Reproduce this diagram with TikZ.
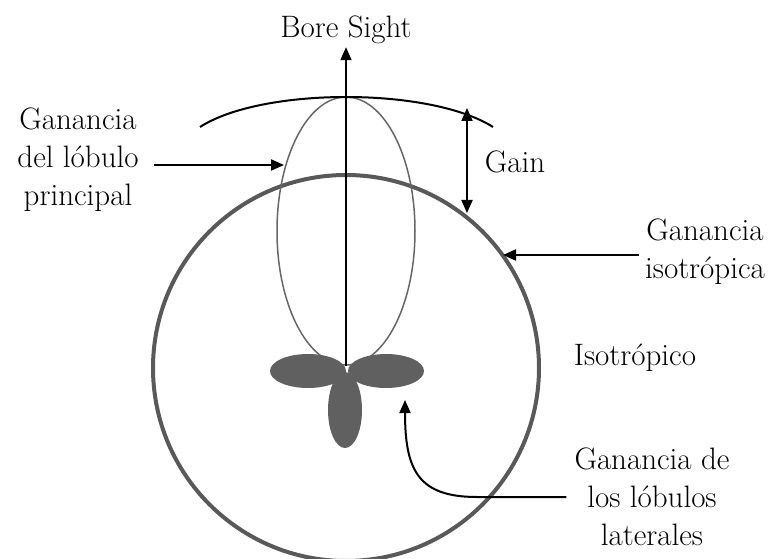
\documentclass[tikz,border=0pt]{standalone}
\usetikzlibrary{arrows.meta}
\tikzset{
  lbl/.style={font=\fontsize{31}{38}\selectfont,align=center,inner sep=0pt},
  lobe/.style={fill=gray!75!black,draw=none},
  tip/.tip={Triangle[length=13pt,width=11pt]},
  pointer/.style={-tip,line width=2pt}
}
\begin{document}
\begin{tikzpicture}[x=1pt,y=-1pt]
	\useasboundingbox (0,0) rectangle (780,559);
	\fill[white] (0,0) rectangle (780,559);
	\draw[draw=gray!70!black,line width=4pt] (346,368) circle [radius=193];
	\draw[gray!80!black,line width=1.5pt] (346,231) ellipse [x radius=69,y radius=134];
	\fill[lobe] (308,371) ellipse [x radius=38,y radius=17];
	\fill[lobe] (386,371) ellipse [x radius=38,y radius=17];
	\fill[lobe] (345,410) ellipse [x radius=17,y radius=38];
	\coordinate (o) at (346,366);
	\node[lbl] (bs) at (346,30) {Bore Sight};
	\draw[pointer] (o) -- ([yshift=-3pt]bs.south);
	\draw[line width=2pt] (200,127) .. controls (262,87) and (430,87) .. (493,127);
	\coordinate (gt) at (467,108);
	\coordinate (gb) at (467,213);
	\draw[tip-tip,line width=2pt] (gt) -- (gb);
	\node[lbl] (gain) at (515,162) {Gain};
	\node[lbl] (ml) at (78,160) {Ganancia\\del lóbulo\\principal};
	\coordinate (mt) at (284,165);
	\draw[pointer] ([xshift=15pt]ml.east |- mt) -- (mt);
	\node[lbl] (il) at (705,252) {Ganancia\\isotrópica};
	\coordinate (it) at (503,255);
	\draw[pointer] ([xshift=-6pt]il.west |- it) -- (it);
	\node[lbl] (iso) at (635,358) {Isotrópico};
	\node[lbl] (ll) at (652,497) {Ganancia de\\los lóbulos\\laterales};
	\coordinate (lt) at (405,400);
	\draw[pointer] ([xshift=-8pt]ll.west) -- (477,497) .. controls (418,497) and (405,470) .. (lt);
\end{tikzpicture}
\end{document}
